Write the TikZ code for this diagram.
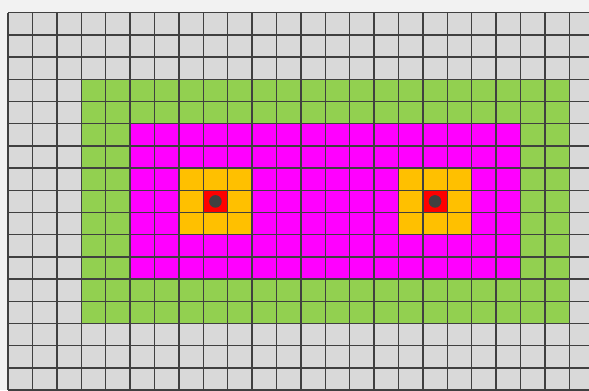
\documentclass[tikz,border=0pt]{standalone}
\usepackage{tikz}
\usetikzlibrary{positioning}

\definecolor{cellgrey}{HTML}{D9D9D9}
\definecolor{pagegrey}{HTML}{F2F2F2}
\definecolor{zonegreen}{HTML}{92D050}
\definecolor{zonemagenta}{HTML}{FF00FF}
\definecolor{zoneorange}{HTML}{FFC000}
\definecolor{zonered}{HTML}{FF0000}
\definecolor{dotgrey}{HTML}{404040}

\begin{document}
\begin{tikzpicture}[x=0.488cm, y=-0.444cm,
    gridline/.style={black!75, line width=0.8pt},
    source/.style={fill=dotgrey}]
    % Frame
    \useasboundingbox (-0.328,-0.572) rectangle (23.81,17.0);
    \fill[pagegrey] (-0.328,-0.572) rectangle (23.81,17.0);
    \clip (-0.328,-0.572) rectangle (23.81,17.0);
    % Zones
    \fill[cellgrey] (0,0) rectangle (24,17);
    \fill[zonegreen] (3,3) rectangle (23,14);
    \fill[zonemagenta] (5,5) rectangle (21,12);
    \fill[zoneorange] (7,7) rectangle (10,10);
    \fill[zoneorange] (16,7) rectangle (19,10);
    \fill[zonered] (8,8) rectangle (9,9);
    \fill[zonered] (17,8) rectangle (18,9);
    % Grid
    \foreach \i in {0,...,24}
        \draw[gridline] (\i,0) -- (\i,17);
    \foreach \j in {0,...,17}
        \draw[gridline] (0,\j) -- (24,\j);
    % Sources
    \fill[source] (8.5,8.5) circle (0.126cm);
    \fill[source] (17.5,8.5) circle (0.126cm);
\end{tikzpicture}
\end{document}
